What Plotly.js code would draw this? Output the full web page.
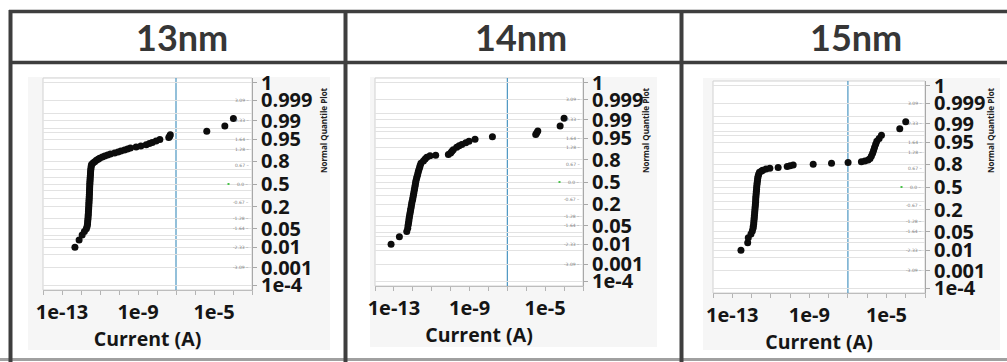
<!DOCTYPE html>
<html>
<head>
<meta charset="utf-8">
<script src="https://cdn.plot.ly/plotly-3.0.1.min.js"></script>
<style>
  html, body { margin: 0; padding: 0; background: #ffffff; overflow: hidden; }
  #chart { width: 1007px; height: 362px; }
</style>
</head>
<body>
<div id="chart"></div>
<script>
// Gate length of each panel
const gateLengths = ['13nm', '14nm', '15nm'];

// Leakage current (A) and its normal quantile, 13nm devices
const current13 = [
  4.79e-13, 7.94e-13, 1.15e-12, 1.51e-12, 1.91e-12, 2.09e-12,
  2.19e-12, 2.24e-12, 2.29e-12, 2.34e-12, 2.38e-12, 2.42e-12, 2.46e-12, 2.50e-12,
  2.54e-12, 2.57e-12, 2.60e-12, 2.63e-12, 2.66e-12, 2.69e-12, 2.72e-12, 2.75e-12,
  2.78e-12, 2.81e-12, 2.84e-12, 2.87e-12, 2.90e-12, 2.93e-12, 2.97e-12, 3.01e-12,
  3.05e-12, 3.10e-12, 3.15e-12, 3.20e-12, 3.27e-12, 3.35e-12, 3.45e-12, 3.60e-12,
  4.27e-12, 5.25e-12, 6.46e-12, 7.94e-12, 9.55e-12, 1.32e-11, 1.78e-11, 2.51e-11,
  3.55e-11, 5.89e-11, 8.91e-11, 1.26e-10, 1.95e-10, 2.82e-10, 3.98e-10, 7.94e-10,
  1.41e-9, 2.69e-9, 3.98e-9, 5.62e-9, 8.91e-9, 1.41e-8, 4.17e-8, 4.68e-8, 5.01e-8,
  4.17e-6, 3.72e-5, 1.05e-4
];
const quantile13 = [
  -2.33, -2.06, -1.88, -1.75, -1.65, -1.56,
  -1.48, -1.40, -1.32, -1.25, -1.17, -1.10, -1.02, -0.95,
  -0.88, -0.81, -0.74, -0.67, -0.60, -0.53, -0.46, -0.39,
  -0.32, -0.25, -0.18, -0.11, -0.04, 0.03, 0.10, 0.17,
  0.24, 0.31, 0.38, 0.45, 0.52, 0.59, 0.66, 0.72,
  0.77, 0.82, 0.87, 0.91, 0.95, 0.99, 1.03, 1.07,
  1.10, 1.14, 1.18, 1.21, 1.25, 1.29, 1.32, 1.36,
  1.40, 1.44, 1.49, 1.53, 1.58, 1.64, 1.71, 1.76, 1.81,
  1.94, 2.13, 2.41
];

// 14nm devices
const current14 = [
  7.08e-14, 1.95e-13, 4.79e-13, 5.37e-13,
  5.62e-13, 5.89e-13, 6.17e-13, 6.31e-13, 6.61e-13, 6.92e-13, 7.24e-13, 7.59e-13,
  7.94e-13, 8.32e-13, 8.71e-13, 9.12e-13, 9.77e-13, 1.02e-12, 1.07e-12, 1.12e-12,
  1.17e-12, 1.23e-12, 1.29e-12, 1.35e-12, 1.41e-12, 1.48e-12, 1.58e-12, 1.70e-12,
  1.82e-12, 1.95e-12, 2.09e-12, 2.29e-12, 2.45e-12, 2.69e-12,
  3.63e-12, 4.47e-12, 5.50e-12, 8.13e-12, 1.62e-11, 7.59e-11, 1.00e-10, 1.17e-10,
  1.38e-10, 2.09e-10, 2.82e-10, 3.89e-10, 6.31e-10, 9.33e-10, 1.95e-9, 1.62e-8,
  3.16e-6, 3.55e-6, 4.07e-6, 6.17e-5, 1.00e-4
];
const quantile14 = [
  -2.33, -2.05, -1.86, -1.73,
  -1.62, -1.54, -1.46, -1.38, -1.30, -1.22, -1.14, -1.06,
  -0.98, -0.90, -0.82, -0.74, -0.66, -0.58, -0.50, -0.42,
  -0.34, -0.26, -0.18, -0.10, -0.02, 0.06, 0.14, 0.22,
  0.30, 0.38, 0.46, 0.54, 0.62, 0.70,
  0.79, 0.86, 0.93, 0.98, 1.00, 1.03, 1.09, 1.15,
  1.21, 1.30, 1.36, 1.41, 1.47, 1.53, 1.60, 1.70,
  1.78, 1.84, 1.91, 2.10, 2.39
];

// 15nm devices
const current15 = [
  2.82e-13, 6.31e-13, 6.76e-13, 9.33e-13, 1.10e-12,
  1.20e-12, 1.23e-12, 1.29e-12, 1.32e-12, 1.35e-12, 1.38e-12, 1.41e-12, 1.45e-12,
  1.48e-12, 1.51e-12, 1.55e-12, 1.58e-12, 1.62e-12, 1.64e-12, 1.66e-12, 1.70e-12,
  1.74e-12, 1.78e-12, 1.82e-12, 1.85e-12, 1.91e-12, 1.95e-12, 2.04e-12, 2.09e-12,
  2.19e-12, 2.34e-12, 2.57e-12,
  3.31e-12, 3.80e-12, 5.62e-12, 8.91e-12, 2.40e-11, 7.08e-11, 1.00e-10, 1.45e-10,
  1.58e-9, 1.41e-8, 1.02e-7, 5.01e-7, 7.59e-7, 1.12e-6, 1.41e-6, 1.66e-6,
  1.91e-6, 2.14e-6, 2.40e-6, 2.75e-6, 3.16e-6, 4.17e-6, 5.50e-6, 4.90e-5, 1.00e-4
];
const quantile15 = [
  -2.33, -2.05, -1.87, -1.73, -1.62,
  -1.52, -1.44, -1.36, -1.28, -1.20, -1.12, -1.04, -0.96,
  -0.88, -0.80, -0.72, -0.64, -0.56, -0.48, -0.40, -0.32,
  -0.24, -0.16, -0.08, 0.00, 0.08, 0.16, 0.24, 0.32,
  0.40, 0.47, 0.54,
  0.59, 0.62, 0.66, 0.69, 0.72, 0.75, 0.78, 0.81,
  0.84, 0.87, 0.90, 0.93, 0.96, 0.99, 1.05, 1.14,
  1.24, 1.34, 1.45, 1.57, 1.68, 1.78, 1.90, 2.14, 2.40
];

// Specification limit on current (A)
const specLimit = [1e-7];

// Probability axis: labels and the normal quantiles they sit at
const probLabels = ['1e-4', '0.001', '0.01', '0.05', '0.2', '0.5', '0.8', '0.95', '0.99', '0.999', '1'];
const probQuantiles = [-3.719, -3.090, -2.326, -1.645, -0.842, 0, 0.842, 1.645, 2.326, 3.090, 3.719];
// Extra reference lines (normal quantiles of 0.005, 0.02, 0.03, 0.1, 0.3, 0.4, 0.6, 0.7, 0.9, 0.97, 0.98, 0.995)
const gridQuantiles = [-2.576, -2.054, -1.881, -1.282, -0.524, -0.253, 0.253, 0.524, 1.282, 1.881, 2.054, 2.576];
// Small normal-quantile labels beside the probability axis
const zLabels = ['3.09', '2.33', '1.64', '1.28', '0.67', '0.0', '-0.67', '-1.28', '-1.64', '-2.33', '-3.09'];
const zValues = [3.09, 2.33, 1.64, 1.28, 0.67, 0, -0.67, -1.28, -1.64, -2.33, -3.09];

// Current axis ticks
const decadeTicks = [1e-14, 1e-13, 1e-12, 1e-11, 1e-10, 1e-9, 1e-8, 1e-7, 1e-6, 1e-5, 1e-4, 1e-3];
const decadeLabels = ['', '1e-13', '', '', '', '1e-9', '', '', '', '1e-5', '', ''];

const series = [
  { current: current13, quantile: quantile13 },
  { current: current14, quantile: quantile14 },
  { current: current15, quantile: quantile15 }
];

// ---- page geometry (pixels) ----
const W = 1007, H = 362;
const fx = p => p / W;
const fy = p => 1 - p / H;
const frames = [
  { x0: 43,  x1: 252, y0: 78, y1: 290, bg: [28, 330, 77, 350],  head: 182, nq: 323 },
  { x0: 375, x1: 583, y0: 78, y1: 286, bg: [370, 657, 77, 347], head: 521, nq: 645 },
  { x0: 713, x1: 925, y0: 81, y1: 293, bg: [703, 1000, 78, 350], head: 856, nq: 990 }
];

const FONT = 'Open Sans, Noto Sans, DejaVu Sans, sans-serif';
const INK = '#151515';

const traces = [];
const shapes = [];
const annotations = [];
const layout = {
  width: W, height: H,
  margin: { l: 0, r: 0, t: 0, b: 0 },
  paper_bgcolor: '#ffffff',
  plot_bgcolor: '#ffffff',
  showlegend: false,
  font: { family: FONT, color: INK },
  hovermode: false
};

frames.forEach((f, i) => {
  const k = i === 0 ? '' : String(i + 1);
  const xName = 'x' + k, yName = 'y' + k;

  // panel backdrop and white plotting area
  shapes.push({ type: 'rect', xref: 'paper', yref: 'paper', layer: 'below',
    x0: fx(f.bg[0]), x1: fx(f.bg[1]), y0: fy(f.bg[3]), y1: fy(f.bg[2]),
    fillcolor: '#f6f6f6', line: { width: 0 } });
  shapes.push({ type: 'rect', xref: 'paper', yref: 'paper', layer: 'below',
    x0: fx(f.x0), x1: fx(f.x1), y0: fy(f.y1), y1: fy(f.y0),
    fillcolor: '#ffffff', line: { color: '#d2d2d2', width: 1 } });

  layout['xaxis' + k] = {
    type: 'log', range: [-14, -3],
    domain: [fx(f.x0), fx(f.x1)], anchor: yName,
    tickmode: 'array', tickvals: decadeTicks, ticktext: decadeLabels,
    ticks: 'outside', ticklen: 4, tickwidth: 1, tickcolor: '#b4b4b4',
    showline: true, linecolor: '#bdbdbd', linewidth: 1,
    showgrid: false, zeroline: false, fixedrange: true, automargin: false,
    tickfont: { family: FONT, size: 20, weight: 700, color: INK },
    title: { text: 'Current (A)', standoff: 6,
      font: { family: FONT, size: 19.5, weight: 700, color: INK } }
  };
  layout['yaxis' + k] = {
    range: [-3.9, 3.9],
    domain: [fy(f.y1), fy(f.y0)], anchor: xName, side: 'right',
    tickmode: 'array', tickvals: probQuantiles, ticktext: probLabels,
    ticks: 'outside', ticklen: 4, tickwidth: 1, tickcolor: '#a8a8a8',
    showline: true, linecolor: '#a8a8a8', linewidth: 1,
    showgrid: true, gridcolor: '#e2e2e2', gridwidth: 1,
    minor: { tickmode: 'array', tickvals: gridQuantiles, ticks: '', showgrid: true, gridcolor: '#e2e2e2', gridwidth: 1 },
    zeroline: false, fixedrange: true, automargin: false,
    tickfont: { family: FONT, size: 20, weight: 700, color: INK }
  };

  traces.push({
    type: 'scatter', mode: 'markers',
    x: series[i].current, y: series[i].quantile,
    xaxis: xName, yaxis: yName,
    marker: { size: 7, color: '#0c0c0c', line: { width: 0 } },
    hoverinfo: 'skip', cliponaxis: false
  });

  // specification limit
  shapes.push({ type: 'line', xref: xName, yref: yName + ' domain', layer: 'below',
    x0: specLimit[0], x1: specLimit[0], y0: 0, y1: 1,
    line: { color: '#4b96c2', width: 1.2 } });

  // green centre marker beside the 0.0 quantile
  const w = f.x1 - f.x0;
  shapes.push({ type: 'rect', xref: xName + ' domain', yref: yName, layer: 'above',
    x0: 1 - 24.5 / w, x1: 1 - 22.5 / w, y0: -0.035, y1: 0.035,
    fillcolor: '#40c040', line: { width: 0 } });

  // small quantile labels inside the right edge
  zLabels.forEach((t, j) => {
    annotations.push({ xref: xName + ' domain', yref: yName, x: 1, y: zValues[j],
      xanchor: 'right', yanchor: 'middle', xshift: -1, showarrow: false,
      text: t + ' \u2013', font: { family: 'DejaVu Sans, sans-serif', size: 4.5, color: '#808080' } });
  });

  // column header
  annotations.push({ xref: 'paper', yref: 'paper', x: fx(f.head), y: fy(37), xanchor: 'center', yanchor: 'middle',
    showarrow: false, text: gateLengths[i],
    font: { family: 'Lato, Open Sans, sans-serif', size: 36, weight: 700, color: '#363636' } });

  // vertical plot caption
  annotations.push({ xref: 'paper', yref: 'paper', x: fx(f.nq), y: fy(130), xanchor: 'center', yanchor: 'middle',
    showarrow: false, textangle: -90, text: 'Normal Quantile Plot',
    font: { family: FONT, size: 8, weight: 700, color: '#222222' } });
});

// table rules
const rule = (x0, y0, x1, y1, color, width) => shapes.push({
  type: 'line', xref: 'paper', yref: 'paper', layer: 'above',
  x0: fx(x0), x1: fx(x1), y0: fy(y0), y1: fy(y1), line: { color, width } });
rule(9, 11.5, 1007, 11.5, '#3e3e3e', 3.5);
rule(9, 62.5, 1007, 62.5, '#3e3e3e', 3.5);
rule(0, 359.5, 1007, 359.5, '#a0a0a0', 3);
rule(10.5, 10, 10.5, 362, '#3e3e3e', 4);
rule(345.5, 10, 345.5, 362, '#3e3e3e', 4);
rule(681.5, 10, 681.5, 362, '#3e3e3e', 4);

layout.shapes = shapes;
layout.annotations = annotations;

Plotly.newPlot('chart', traces, layout, { staticPlot: true, displayModeBar: false });
</script>
</body>
</html>
